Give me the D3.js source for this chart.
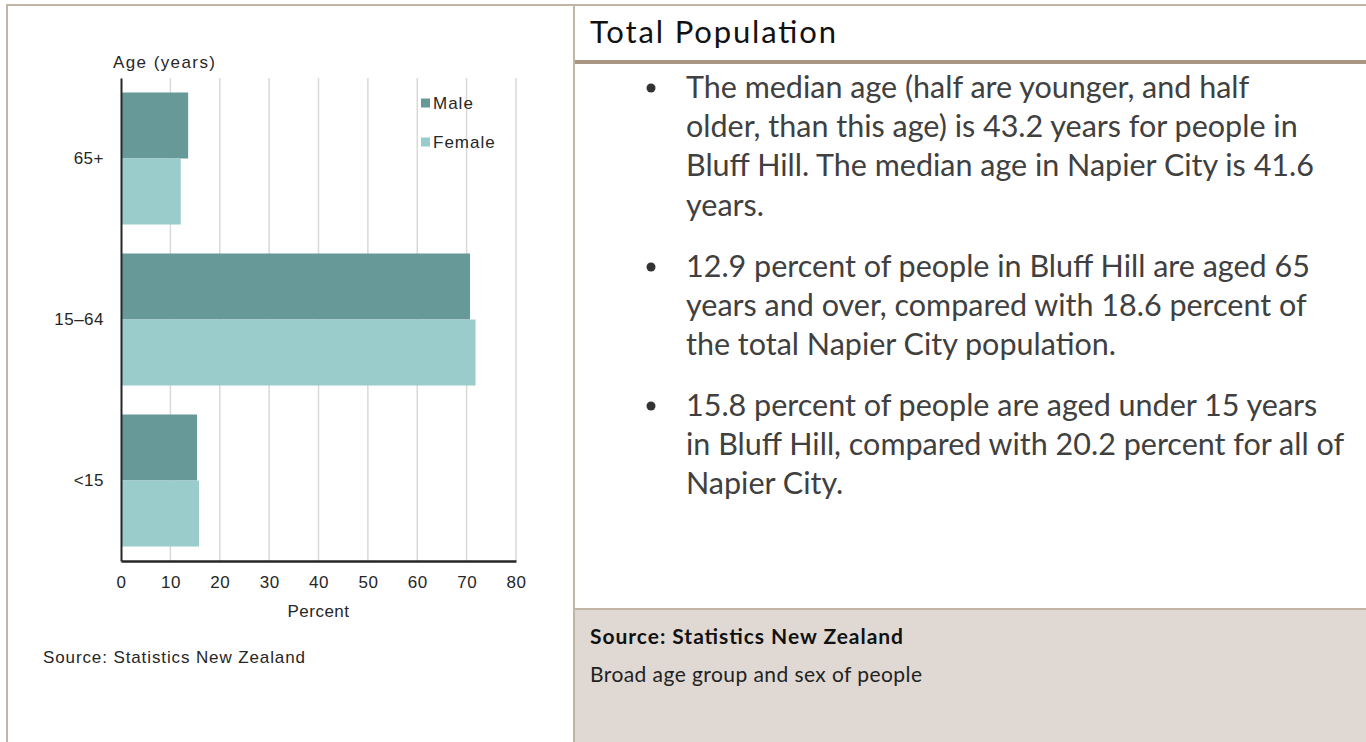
<!DOCTYPE html>
<html>
<head>
<meta charset="utf-8">
<script src="https://cdn.jsdelivr.net/npm/d3@7"></script>
<style>
  body { margin: 0; background: #fff; }
  svg { display: block; }
</style>
</head>
<body>
<div id="chart"></div>
<script>
// data
const ageGroups = ['65+', '15–64', '<15'];
const sexes = ['Male', 'Female'];
const maleValues = [13.6, 70.7, 15.4];
const femaleValues = [12.1, 71.8, 15.8];
const xTicks = [0, 10, 20, 30, 40, 50, 60, 70, 80];

const titleText = 'Total Population';
const bulletParagraphs = [
  ['The median age (half are younger, and half',
   'older, than this age) is 43.2 years for people in',
   'Bluff Hill. The median age in Napier City is 41.6',
   'years.'],
  ['12.9 percent of people in Bluff Hill are aged 65',
   'years and over, compared with 18.6 percent of',
   'the total Napier City population.'],
  ['15.8 percent of people are aged under 15 years',
   'in Bluff Hill, compared with 20.2 percent for all of',
   'Napier City.']
];
const sourceText = 'Source: Statistics New Zealand';
const noteText = 'Broad age group and sex of people';

const width = 1366;
const height = 742;
const colors = { Male: '#679999', Female: '#9acccc' };
const chartFont = '"Liberation Sans", Arial, sans-serif';
const panelFont = 'Lato, sans-serif';

const svg = d3.select('#chart')
  .append('svg')
  .attr('width', width)
  .attr('height', height);

// panel frame
svg.append('rect')
  .attr('x', 575).attr('y', 609)
  .attr('width', width - 575).attr('height', height - 609)
  .attr('fill', '#e0d9d3');
svg.append('line')
  .attr('x1', 575).attr('x2', width).attr('y1', 609).attr('y2', 609)
  .attr('stroke', '#c2b5a5').attr('stroke-width', 2);
svg.append('line')
  .attr('x1', 6).attr('x2', width).attr('y1', 5).attr('y2', 5)
  .attr('stroke', '#c2b5a5').attr('stroke-width', 2);
svg.append('line')
  .attr('x1', 7).attr('x2', 7).attr('y1', 4).attr('y2', height)
  .attr('stroke', '#c2b5a5').attr('stroke-width', 2);
svg.append('line')
  .attr('x1', 574).attr('x2', 574).attr('y1', 4).attr('y2', height)
  .attr('stroke', '#c2b5a5').attr('stroke-width', 2);
svg.append('line')
  .attr('x1', 575).attr('x2', width).attr('y1', 62).attr('y2', 62)
  .attr('stroke', '#a89582').attr('stroke-width', 4);

// bar chart
const plot = { left: 121, right: 516, top: 78, bottom: 561 };

const x = d3.scaleLinear()
  .domain([0, 80])
  .range([plot.left, plot.right]);

const y = d3.scaleBand()
  .domain(ageGroups)
  .range([plot.top, plot.bottom])
  .paddingInner(0.18)
  .paddingOuter(0.09);

const ySex = d3.scaleBand()
  .domain(sexes)
  .range([0, y.bandwidth()]);

const chart = svg.append('g');

chart.append('g')
  .selectAll('line')
  .data(xTicks.slice(1))
  .enter()
  .append('line')
  .attr('x1', d => x(d))
  .attr('x2', d => x(d))
  .attr('y1', plot.top)
  .attr('y2', plot.bottom)
  .attr('stroke', '#d9d9d9')
  .attr('stroke-width', 1.5);

const rows = ageGroups.map((g, i) => ({
  group: g,
  values: [
    { sex: 'Male', value: maleValues[i] },
    { sex: 'Female', value: femaleValues[i] }
  ]
}));

chart.append('g')
  .selectAll('g')
  .data(rows)
  .enter()
  .append('g')
  .attr('transform', d => `translate(0,${y(d.group)})`)
  .selectAll('rect')
  .data(d => d.values)
  .enter()
  .append('rect')
  .attr('x', x(0))
  .attr('y', d => ySex(d.sex))
  .attr('width', d => x(d.value) - x(0))
  .attr('height', ySex.bandwidth())
  .attr('fill', d => colors[d.sex]);

// axes
const xAxis = chart.append('g')
  .attr('transform', `translate(0,${plot.bottom})`)
  .call(d3.axisBottom(x).tickValues(xTicks).tickSize(0).tickPadding(15));
xAxis.select('.domain').attr('stroke', '#262626').attr('stroke-width', 2.5);

const yAxis = chart.append('g')
  .attr('transform', `translate(${plot.left},0)`)
  .call(d3.axisLeft(y).tickSize(0).tickPadding(17));
yAxis.select('.domain').attr('stroke', '#262626').attr('stroke-width', 2);

chart.selectAll('.tick text')
  .attr('font-family', chartFont)
  .attr('font-size', 17)
  .attr('letter-spacing', 0.5)
  .attr('fill', '#262626');

chart.append('text')
  .attr('x', x(40))
  .attr('y', 611)
  .attr('dy', '0.35em')
  .attr('text-anchor', 'middle')
  .attr('font-family', chartFont)
  .attr('font-size', 17)
  .attr('letter-spacing', 0.5)
  .attr('fill', '#262626')
  .text('Percent');

chart.append('text')
  .attr('x', 113)
  .attr('y', 62)
  .attr('dy', '0.35em')
  .attr('font-family', chartFont)
  .attr('font-size', 17)
  .attr('fill', '#262626')
  .attr('textLength', 102)
  .attr('lengthAdjust', 'spacing')
  .text('Age (years)');

chart.append('text')
  .attr('x', 43)
  .attr('y', 657)
  .attr('dy', '0.35em')
  .attr('font-family', chartFont)
  .attr('font-size', 17)
  .attr('fill', '#262626')
  .attr('textLength', 262)
  .attr('lengthAdjust', 'spacing')
  .text(sourceText);

// legend
const legend = chart.append('g')
  .selectAll('g')
  .data(sexes)
  .enter()
  .append('g')
  .attr('transform', (d, i) => `translate(421,${103 + i * 39})`);

legend.append('rect')
  .attr('x', 0).attr('y', -4.5)
  .attr('width', 9).attr('height', 9)
  .attr('fill', d => colors[d]);

legend.append('text')
  .attr('x', 12)
  .attr('dy', '0.35em')
  .attr('font-family', chartFont)
  .attr('font-size', 17)
  .attr('letter-spacing', 1)
  .attr('fill', '#262626')
  .text(d => d);

// right panel
svg.append('text')
  .attr('x', 590)
  .attr('y', 32)
  .attr('dy', '0.35em')
  .attr('font-family', panelFont)
  .attr('font-size', 31)
  .attr('fill', '#111')
  .attr('textLength', 246)
  .attr('lengthAdjust', 'spacing')
  .text(titleText);

const paraTops = [87, 266, 405];
const lineStep = 39.3;

const paras = svg.append('g')
  .selectAll('g')
  .data(bulletParagraphs)
  .enter()
  .append('g')
  .attr('transform', (d, i) => `translate(0,${paraTops[i]})`);

paras.append('circle')
  .attr('cx', 651)
  .attr('cy', 1)
  .attr('r', 4.5)
  .attr('fill', '#333');

paras.selectAll('text')
  .data(d => d)
  .enter()
  .append('text')
  .attr('x', 686)
  .attr('y', (d, i) => i * lineStep)
  .attr('dy', '0.35em')
  .attr('font-family', panelFont)
  .attr('font-size', 30.5)
  .attr('fill', '#404040')
  .text(d => d);

svg.append('text')
  .attr('x', 590)
  .attr('y', 637)
  .attr('dy', '0.35em')
  .attr('font-family', panelFont)
  .attr('font-size', 21)
  .attr('font-weight', 700)
  .attr('fill', '#111')
  .attr('textLength', 313)
  .attr('lengthAdjust', 'spacing')
  .text(sourceText);

svg.append('text')
  .attr('x', 590)
  .attr('y', 675)
  .attr('dy', '0.35em')
  .attr('font-family', panelFont)
  .attr('font-size', 21)
  .attr('fill', '#222')
  .attr('textLength', 332)
  .attr('lengthAdjust', 'spacing')
  .text(noteText);
</script>
</body>
</html>
